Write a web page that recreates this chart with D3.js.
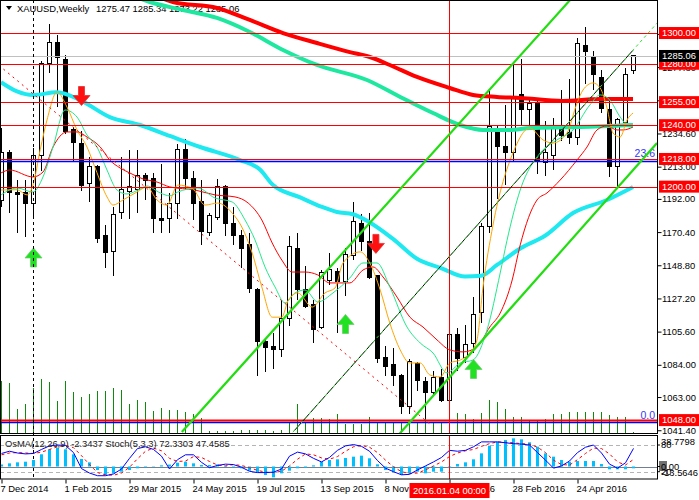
<!DOCTYPE html>
<html lang="en">
<head>
<meta charset="UTF-8">
<title>XAUUSD Weekly</title>
<script src="https://d3js.org/d3.v7.min.js"></script>
<style>
  body { margin: 0; background: #fff; }
  svg { display: block; font-family: "Liberation Sans", Arial, sans-serif; font-size: 9.4px; }
</style>
</head>
<body>
<script>
// weekly bars from 7 Dec 2014 to 12 Jun 2016 (bar index 0..79)
var opens = [1191,1222,1196,1196,1189,1220,1280,1294,1283,1237,
             1228,1202,1213,1168,1158,1183,1197,1198,1207,1205,
             1179,1179,1189,1224,1205,1190,1170,1180,1200,1176,
             1168,1162,1133,1099,1096,1094,1114,1160,1133,1123,
             1108,1139,1145,1138,1155,1176,1164,1142,1089,1084,
             1077,1057,1085,1073,1066,1076,1061,1104,1089,1098,
             1118,1174,1236,1226,1222,1260,1250,1254,1216,1220,
             1240,1235,1232,1292,1284,1271,1250,1213,1242,1275.47];
var highs = [1238,1224,1204,1204,1225,1282,1306,1299,1286,1239,
             1236,1219,1214,1175,1187,1219,1224,1224,1209,1209,
             1215,1196,1228,1231,1210,1204,1183,1205,1201,1187,
             1172,1170,1134,1101,1105,1126,1168,1170,1148,1126,
             1146,1157,1147,1160,1190,1182,1183,1142,1096,1095,
             1078,1088,1086,1076,1080,1081,1112,1108,1110,1128,
             1176,1263,1240,1253,1280,1283,1258,1257,1243,1245,
             1263,1270,1297,1304,1288,1276,1256,1245,1277,1285.34];
var lows =  [1187,1183,1170,1167,1181,1210,1274,1252,1234,1216,
             1197,1190,1163,1147,1142,1179,1179,1183,1191,1170,
             1170,1170,1179,1198,1178,1162,1168,1178,1168,1162,
             1147,1131,1077,1079,1081,1089,1109,1126,1121,1098,
             1107,1136,1105,1129,1152,1158,1140,1085,1077,1070,
             1052,1052,1067,1049,1064,1060,1060,1080,1085,1092,
             1111,1170,1192,1201,1216,1240,1238,1208,1207,1211,
             1230,1228,1227,1267,1263,1248,1206,1200,1240,1273.22];
var closes = [1222,1196,1195,1189,1220,1280,1294,1284,1236,1229,
              1201,1213,1166,1157,1182,1198,1200,1207,1204,1179,
              1178,1189,1224,1205,1189,1171,1181,1200,1176,1168,
              1160,1134,1099,1095,1094,1114,1161,1133,1122,1107,
              1144,1146,1138,1156,1177,1164,1141,1088,1083,1077,
              1057,1086,1074,1066,1076,1061,1104,1088,1097,1117,
              1174,1239,1226,1222,1259,1250,1254,1217,1222,1240,
              1233,1232,1293,1288,1273,1251,1213,1244,1273,1285.06];
// tick volume, thousands
var volumesK = [52,50,24,29,45,54,51,32,52,41,
                36,39,42,42,45,43,29,33,31,22,
                25,23,23,21,19,15,2,2,2,2,
                3,3,3,3,2,3,10,29,11,15,
                15,14,19,9,9,9,16,10,10,10,
                10,10,10,15,10,10,10,20,19,14,
                20,33,31,24,16,16,13,13,14,19,
                19,21,21,21,21,21,18,16,16,1];
var osma = [2.6,4.1,5.4,6.2,8.4,15.8,22.2,24.3,22.2,15.8,
            9.7,5.4,-4.5,-11,-8.8,-6.7,-4.5,-2.3,-1,0.5,
            1.5,2.5,4.9,6.2,4.1,1.9,1.9,2.8,1,-1,
            -2.3,-5.4,-8,-11,-14,-8.8,-5.4,-2.3,-1.5,1.5,
            6.2,8.4,9.3,11,12.7,14,10.6,2.8,-4.5,-6.7,
            -11,-8.8,-6.7,-8.8,-6.7,-6.7,-2,3.2,5.4,9.3,
            17,26.9,32,34.2,36.4,35.1,31.3,25.6,17,12.7,
            8.4,6.2,7.1,7.1,7.1,3.2,-3.6,-3.6,-3.6,-2.3437];
var stochMain = [61,66,62,60,61,70,78,80,79,63,
                 27,17,11,11,15,26,50,72,76,70,
                 55,26,47,58,58,41,29,34,37,36,
                 30,21,18,18,19,26,55,64,60,50,
                 42,52,68,78,81,77,66,45,28,20,
                 13,14,24,33,42,52,68,66,68,76,
                 87,87,87,85,83,82,80,63,46,28,
                 33,44,63,75,80,62,37,28,40,72.33];
var stochSignal = [58,62,63,62,61,64,70,76,79,74,
                   56,36,18,13,12,17,30,49,66,73,
                   67,50,43,44,54,52,43,35,33,36,
                   34,29,23,19,18,21,33,48,60,58,
                   51,48,54,66,76,79,75,63,46,31,
                   20,16,17,24,33,42,54,62,67,70,
                   77,83,87,86,85,83,82,75,63,46,
                   36,35,47,61,73,72,60,42,35,47.46];

// moving averages: [bar, price]
var maCyan = [[0,1268],[2,1262],[4,1259.6],[7,1261.5],[10,1256],[13.6,1245.3],[17.4,1240.1],[21.1,1233],
              [24.9,1225.8],[29.9,1217.3],[32.4,1211],[34,1201],[37.4,1193],[40,1187],[42,1183.5],[44,1182],
              [46,1177],[49,1166],[52,1153],[55,1147],[58,1141.5],[60,1142],[62,1149],[65,1160],[68,1168],
              [71.5,1182.8],[75.75,1191.3],[79,1199.8]];
var maSpring = [[14,1330],[18.6,1320.2],[22.75,1315],[27,1309.8],[31.1,1300.7],[35.25,1289],[39.5,1279.2],
                [45.75,1269.4],[49.9,1258.4],[54,1247.9],[57.4,1240.1],[60.25,1236.9],[63.6,1236.9],
                [66.1,1238.2],[72.4,1238.8],[79,1240.1]];
var maRedSlow = [[17,1330],[21.5,1320.2],[27,1316.3],[31.1,1308.5],[35.25,1300],[39.5,1293.5],[43.6,1287.6],
                 [46.1,1284.4],[48.6,1279.2],[52,1271.4],[56.1,1264.2],[59,1259.7],[62,1258.4],[64.9,1257.7],
                 [70.25,1255.8],[74.9,1257],[79,1257]];
var maRedFast = [[0,1208.9],[1.1,1210.8],[4,1206.3],[5.25,1209.5],[6.5,1225.8],[8.25,1235.6],[9.5,1235.6],
                 [10.75,1232.3],[12.4,1225.8],[13.6,1217.3],[14.9,1212.1],[16.1,1208.9],[17.75,1205],[19.5,1203],
                 [21.1,1199.8],[24.25,1197.8],[26.75,1194.6],[29.25,1193.3],[30.9,1189.3],[32.6,1178.3],
                 [33.9,1163.3],[35.1,1152.2],[36.4,1144.4],[38,1144.4],[39.6,1142.5],[41.1,1137.3],[43.6,1137.3],
                 [45.25,1145.7],[46.5,1147.7],[47.75,1141.2],[49.5,1128.1],[51.1,1115.1],[52.75,1108.6],
                 [54.5,1100.2],[56.1,1093.7],[57.75,1092.4],[59.5,1095.6],[61.1,1108.6],[62.4,1117.7],
                 [63.9,1139.2],[64.9,1162],[67,1191.3],[68.25,1195.9],[69.9,1204.3],[72,1217.3],[73.25,1225.8],
                 [74.5,1236.9],[75.75,1239.5],[77,1236.9],[77.75,1236.9],[79,1238.8]];
var maGreen = [[0,1194.6],[2,1199.1],[4,1196.5],[5.25,1206.3],[6.5,1225.8],[8,1249.9],[9.5,1245.3],
               [10.75,1233.6],[12,1225.8],[13.25,1210.8],[14.5,1197.8],[15.75,1195.2],[17.4,1198.5],[18.25,1200.4],
               [19.9,1195.9],[21.1,1194],[22.1,1196.5],[24.6,1199.1],[26.75,1192.6],[28.9,1190],[30.5,1178.3],
               [31.75,1165.3],[33,1147.7],[34.25,1134.7],[35.5,1124.3],[36.75,1130.8],[38,1132.7],[39.6,1124.9],
               [41.5,1130.8],[43.6,1140.5],[45.25,1150.3],[47,1150.3],[48.6,1134.7],[50.75,1108.6],[52.4,1098.2],
               [54,1091.7],[55.75,1078.7],[57.4,1085.2],[59,1087.1],[60.75,1106.7],[62.4,1143.8],[63.25,1165],
               [64.9,1197.8],[67.4,1221.9],[69.5,1230.4],[71.5,1236.9],[73.6,1253.1],[74.9,1259.7],[76.1,1256.4],
               [77.4,1245.3],[78.6,1238.8],[79,1239.5]];
var maOrange = [[0,1197.8],[2,1198],[3.25,1194.6],[4,1201],[4.9,1224],[5.75,1243.4],[7,1261.6],[8.25,1251.8],
                [9.5,1236.9],[10.75,1225.8],[12,1209],[13.25,1193.3],[14,1188],[15.25,1191.3],[17,1196.5],
                [18.25,1199.8],[19.5,1191.3],[20.75,1188],[22.1,1201],[23.9,1199],[25.5,1188],[27.1,1189.3],
                [28.9,1182.8],[30.1,1173.7],[31.4,1156.8],[32.6,1134.7],[33.9,1115],[35.1,1115],[35.9,1126],
                [37.1,1130.8],[38.9,1121.6],[40.5,1130.8],[41.75,1134],[42.75,1150.3],[44.9,1157.5],[46.1,1150.3],
                [47.4,1132.7],[48.6,1111.2],[49.9,1093.7],[51.1,1085.2],[52.4,1085.2],[53.6,1077.4],[54.9,1076.1],
                [56.1,1085.2],[57.4,1087.1],[58.6,1091.7],[59.5,1100.2],[60.25,1134.7],[61.5,1175],[64,1222],
                [66.1,1238.2],[67.75,1230.4],[69,1228.4],[70.75,1234.9],[72,1254.4],[72.75,1262.9],[74,1267.5],
                [74.9,1264.2],[75.75,1251.2],[76.5,1234.9],[77.4,1232.3],[78.25,1243.4],[79,1247.9]];

// drawn objects
var levels = [1300, 1280, 1255, 1240, 1218, 1200, 1048];
var bidPrice = 1285.06;
var fiboPrices = [1046.6, 1216.9];
var fiboNames = ["0.0", "23.6"];
var fiboTrend = [[-2, 1286.5], [53.6, 1045.5]];
var channelUpper = [[22.6, 1040.2], [72, 1326.5]];
var channelLower = [[49.8, 1039], [82, 1228.4]];
var channelMiddle = [[36.5, 1040.2], [79, 1288.8]];
var channelRay = [[36.5, 1040.2], [82, 1306.4]];
var arrowUpBars = [4, 43, 59], arrowUpPrices = [1153.9, 1110.6, 1081.3];
var arrowDownBars = [10, 46.8], arrowDownPrices = [1259, 1162.7];
var separatorBar = 4, cursorBar = 56;

var priceTicks = [1041.40, 1063.00, 1084.00, 1105.60, 1127.20, 1148.80, 1170.40, 1192.00, 1213.00, 1234.60, 1256.20, 1277.80, 1299.40];
var dateTickBars = [0, 8, 16, 24, 32, 40, 48, 56, 64, 72];
var dateTickLabels = ["7 Dec 2014", "1 Feb 2015", "29 Mar 2015", "24 May 2015", "19 Jul 2015", "13 Sep 2015",
                      "8 Nov 2015", "3 Jan 2016", "28 Feb 2016", "24 Apr 2016"];

var width = 699, height = 500;
var plotRight = 657, mainBottom = 433, subTop = 436, subBottom = 479;

var svg = d3.select("body").append("svg")
    .attr("width", width)
    .attr("height", height);

svg.append("rect").attr("width", width).attr("height", height).attr("fill", "#fff");

var x = d3.scaleLinear().domain([0, 79]).range([1, 633]);
var y = d3.scaleLinear().domain([1039.6, 1321.5]).range([mainBottom, 0]);
var yVol = d3.scaleLinear().domain([0, 54]).range([mainBottom, 379]);
var yOs = d3.scaleLinear().domain([-13.5646, 38.7798]).range([477, 436.5]);
var ySt = d3.scaleLinear().domain([0, 100]).range([480.6, 436.1]);

var defs = svg.append("defs");
defs.append("clipPath").attr("id", "clipMain").append("rect")
    .attr("x", 0).attr("y", 0).attr("width", plotRight).attr("height", mainBottom);
defs.append("clipPath").attr("id", "clipSub").append("rect")
    .attr("x", 0).attr("y", subTop).attr("width", plotRight).attr("height", subBottom - subTop);

var main = svg.append("g").attr("clip-path", "url(#clipMain)");

// header
main.append("path").attr("d", "M6,6L12,6L9,10Z").attr("fill", "#000");
main.append("text").attr("x", 17).attr("y", 12).attr("fill", "#000").text("XAUUSD,Weekly");
main.append("text").attr("x", 96).attr("y", 12).attr("fill", "#000").text("1275.47 1285.34 1273.22 1285.06");

// volumes
main.selectAll(".vol").data(volumesK).join("line")
    .attr("x1", (d, i) => x(i) + 0.5).attr("x2", (d, i) => x(i) + 0.5)
    .attr("y1", yVol(0)).attr("y2", d => yVol(d))
    .attr("stroke", "#0e8a0e").attr("stroke-width", 1);

// candles
var bars = d3.range(opens.length);
main.selectAll(".wick").data(bars).join("line")
    .attr("x1", i => x(i) + 0.5).attr("x2", i => x(i) + 0.5)
    .attr("y1", i => y(highs[i])).attr("y2", i => y(lows[i]))
    .attr("stroke", "#000").attr("shape-rendering", "crispEdges");
main.selectAll(".body").data(bars).join("rect")
    .attr("x", i => x(i) - 1.5).attr("width", 4)
    .attr("y", i => y(Math.max(opens[i], closes[i])))
    .attr("height", i => Math.max(1, Math.abs(y(opens[i]) - y(closes[i]))))
    .attr("fill", i => closes[i] >= opens[i] ? "#fff" : "#000")
    .attr("stroke", "#000").attr("shape-rendering", "crispEdges");

// moving averages
var maLine = d3.line().x(d => x(d[0])).y(d => y(d[1])).curve(d3.curveMonotoneX);
main.append("path").datum(maCyan).attr("d", maLine).attr("fill", "none").attr("stroke", "#1ee8f0").attr("stroke-width", 4);
main.append("path").datum(maSpring).attr("d", maLine).attr("fill", "none").attr("stroke", "#1ee8a0").attr("stroke-width", 4);
main.append("path").datum(maRedSlow).attr("d", maLine).attr("fill", "none").attr("stroke", "#ff0000").attr("stroke-width", 4);
main.append("path").datum(maRedFast).attr("d", maLine).attr("fill", "none").attr("stroke", "#ff0000").attr("stroke-width", 1);
main.append("path").datum(maGreen).attr("d", maLine).attr("fill", "none").attr("stroke", "#22e88a").attr("stroke-width", 1);
main.append("path").datum(maOrange).attr("d", maLine).attr("fill", "none").attr("stroke", "#ffa500").attr("stroke-width", 1);

// horizontal levels (fibo under the red levels)
main.append("line").attr("x1", 0).attr("x2", plotRight)
    .attr("y1", Math.round(y(bidPrice)) + 0.5).attr("y2", Math.round(y(bidPrice)) + 0.5)
    .attr("stroke", "#c0c0c0");
main.selectAll(".fibo").data(fiboPrices).join("line")
    .attr("x1", 0).attr("x2", plotRight)
    .attr("y1", d => Math.round(y(d)) + 0.5).attr("y2", d => Math.round(y(d)) + 0.5)
    .attr("stroke", "#0000ff").attr("stroke-width", 1.6);
main.selectAll(".lvl").data(levels).join("line")
    .attr("x1", 0).attr("x2", plotRight)
    .attr("y1", d => Math.round(y(d)) + 0.5).attr("y2", d => Math.round(y(d)) + 0.5)
    .attr("stroke", "#ff0000").attr("stroke-width", d => d === 1048 ? 2 : 1);
main.selectAll(".fiboTxt").data(fiboPrices).join("text")
    .attr("x", 655).attr("y", d => y(d) - 3.5)
    .attr("text-anchor", "end").attr("fill", "#3333ff").attr("font-size", "10.5px")
    .text((d, i) => fiboNames[i]);

// vertical lines
main.append("line").attr("x1", x(cursorBar) + 0.5).attr("x2", x(cursorBar) + 0.5)
    .attr("y1", 0).attr("y2", mainBottom).attr("stroke", "#ff0000");
svg.append("line").attr("x1", x(separatorBar) + 0.5).attr("x2", x(separatorBar) + 0.5)
    .attr("y1", 0).attr("y2", subBottom).attr("stroke", "#000").attr("stroke-dasharray", "3,3");

// trend lines
var tLine = d3.line().x(d => x(d[0])).y(d => y(d[1]));
main.append("path").datum(fiboTrend).attr("d", tLine).attr("stroke", "#ff0000").attr("stroke-dasharray", "2,4").attr("fill", "none");
main.append("path").datum(channelMiddle).attr("d", tLine).attr("stroke", "#000").attr("stroke-width", 1).attr("fill", "none");
main.append("path").datum(channelRay).attr("d", tLine).attr("stroke", "#33dd33").attr("stroke-dasharray", "3,3").attr("fill", "none");
main.append("path").datum(channelUpper).attr("d", tLine).attr("stroke", "#22dd11").attr("stroke-width", 2.2).attr("fill", "none");
main.append("path").datum(channelLower).attr("d", tLine).attr("stroke", "#22dd11").attr("stroke-width", 2.2).attr("fill", "none");

// arrows
function arrowPath(dir) {
  var s = dir;
  return "M0," + (-9.5 * s) + "L8.5," + (0.5 * s) + "L3," + (0.5 * s) + "L3," + (9.5 * s) +
         "L-3," + (9.5 * s) + "L-3," + (0.5 * s) + "L-8.5," + (0.5 * s) + "Z";
}
main.selectAll(".up").data(arrowUpBars).join("path")
    .attr("transform", (d, i) => "translate(" + (x(d) + 0.5) + "," + y(arrowUpPrices[i]) + ")")
    .attr("d", arrowPath(1)).attr("fill", "#22e022").attr("stroke", "#66d066").attr("stroke-width", 0.8);
main.selectAll(".down").data(arrowDownBars).join("path")
    .attr("transform", (d, i) => "translate(" + (x(d) + 0.5) + "," + y(arrowDownPrices[i]) + ")")
    .attr("d", arrowPath(-1)).attr("fill", "#ff1010").attr("stroke", "#e83030").attr("stroke-width", 0.8);

// main frame
svg.append("rect").attr("x", 0.5).attr("y", 0.5).attr("width", plotRight).attr("height", mainBottom)
    .attr("fill", "none").attr("stroke", "#000");

// price axis
var pAxis = svg.append("g").attr("transform", "translate(" + (plotRight + 0.5) + ",0)")
    .call(d3.axisRight(y).tickValues(priceTicks).tickFormat(d3.format(".2f")).tickSize(4).tickSizeOuter(0));
pAxis.select(".domain").remove();
pAxis.selectAll("text").attr("x", 4.5).attr("fill", "#000").style("font-size", "9.4px")
    .style("font-family", "'Liberation Sans', Arial, sans-serif");

var boxes = svg.selectAll(".lvlBox").data(levels).join("g")
    .attr("transform", d => "translate(" + (plotRight + 2) + "," + y(d) + ")");
boxes.append("rect").attr("x", 0).attr("y", -6).attr("width", 40).attr("height", 12).attr("fill", "#ff0000");
boxes.append("text").attr("x", 3).attr("y", 0).attr("dy", "0.35em").attr("fill", "#fff").text(d => d3.format(".2f")(d));

var bid = svg.append("g").attr("transform", "translate(" + (plotRight + 2) + "," + y(bidPrice) + ")");
bid.append("rect").attr("x", 0).attr("y", -6).attr("width", 40).attr("height", 12).attr("fill", "#000");
bid.append("text").attr("x", 3).attr("dy", "0.35em").attr("fill", "#fff").text(d3.format(".2f")(bidPrice));

// indicator window
var sub = svg.append("g").attr("clip-path", "url(#clipSub)");
sub.selectAll(".lvlSt").data([80, 20]).join("line")
    .attr("x1", 0).attr("x2", plotRight)
    .attr("y1", d => Math.round(ySt(d)) + 0.5).attr("y2", d => Math.round(ySt(d)) + 0.5)
    .attr("stroke", "#b4b4b4").attr("stroke-dasharray", "4,3");
sub.append("line").attr("x1", 0).attr("x2", plotRight)
    .attr("y1", Math.round(yOs(0)) + 0.5).attr("y2", Math.round(yOs(0)) + 0.5)
    .attr("stroke", "#708090");
sub.selectAll(".hist").data(osma).join("rect")
    .attr("x", (d, i) => x(i) - 1).attr("width", 3)
    .attr("y", d => Math.min(yOs(0), yOs(d)))
    .attr("height", d => Math.abs(yOs(d) - yOs(0)))
    .attr("fill", "#00bfff");
var stLine = d3.line().x((d, i) => x(i) + 0.5).y(d => ySt(d));
sub.append("path").datum(stochSignal).attr("d", stLine).attr("fill", "none")
    .attr("stroke", "#ff0000").attr("stroke-dasharray", "3,3");
sub.append("path").datum(stochMain).attr("d", stLine).attr("fill", "none").attr("stroke", "#0000ff");
sub.append("line").attr("x1", x(cursorBar) + 0.5).attr("x2", x(cursorBar) + 0.5)
    .attr("y1", subTop).attr("y2", subBottom).attr("stroke", "#ff0000");
sub.append("text").attr("x", 5).attr("y", 447).attr("fill", "#222")
    .text("OsMA(12,26,9) -2.3437  Stoch(5,3,3) 72.3303 47.4585");

svg.append("rect").attr("x", 0.5).attr("y", subTop - 0.5).attr("width", plotRight).attr("height", subBottom - subTop + 0.5)
    .attr("fill", "none").attr("stroke", "#000");

// indicator scale labels
var subLbl = svg.append("g").attr("transform", "translate(" + (plotRight + 4) + ",0)").attr("fill", "#000");
subLbl.append("rect").attr("x", -2).attr("y", yOs(0) - 5.5).attr("width", 8).attr("height", 10).attr("fill", "#707070");
subLbl.append("text").attr("y", yOs(38.7798) + 5).attr("dy", "0.35em").text("38.7798");
subLbl.append("text").attr("y", ySt(80)).attr("dy", "0.35em").text("80");
subLbl.append("text").attr("y", yOs(0)).attr("dy", "0.35em").text("0.00");
subLbl.append("text").attr("y", ySt(20)).attr("dy", "0.35em").text("20");
subLbl.append("text").attr("y", yOs(-13.5646) - 4).attr("dy", "0.35em").text("-13.5646");
subLbl.selectAll(".tk").data([ySt(80), yOs(0), ySt(20)]).join("line")
    .attr("x1", -4).attr("x2", -1).attr("y1", d => d).attr("y2", d => d).attr("stroke", "#000");

// date axis
var dAxis = svg.append("g").attr("transform", "translate(0," + (subBottom + 0.5) + ")")
    .call(d3.axisBottom(x).tickValues(dateTickBars).tickFormat((d, i) => dateTickLabels[i]).tickSize(4).tickSizeOuter(0));
dAxis.select(".domain").remove();
dAxis.selectAll(".tick line").attr("transform", "translate(0.5,0)");
dAxis.selectAll("text").attr("text-anchor", "start").attr("x", -1).attr("y", 6).attr("fill", "#000")
    .style("font-size", "9.4px").style("font-family", "'Liberation Sans', Arial, sans-serif");

var cur = svg.append("g").attr("transform", "translate(" + (x(cursorBar) + 0.5) + "," + (subBottom + 4) + ")");
cur.append("rect").attr("x", -40).attr("y", 0).attr("width", 80).attr("height", 15).attr("fill", "#ff0000");
cur.append("text").attr("x", 0).attr("y", 7.5).attr("dy", "0.35em").attr("text-anchor", "middle")
    .attr("fill", "#fff").text("2016.01.04 00:00");
</script>
</body>
</html>
